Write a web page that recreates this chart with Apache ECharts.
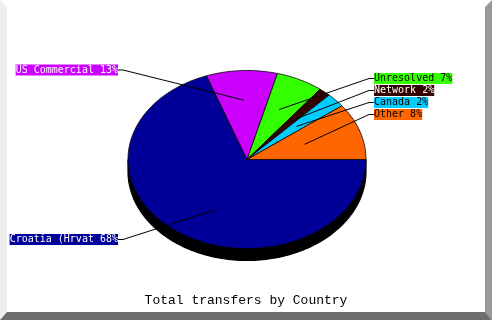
<!DOCTYPE html>
<html>
<head>
<meta charset="utf-8">
<script src="https://cdn.jsdelivr.net/npm/echarts@6/dist/echarts.min.js"></script>
<style>
html,body{margin:0;padding:0;background:#fff;}
#chart{width:492px;height:320px;}
</style>
</head>
<body>
<div id="chart"></div>
<script>
// ---- data ----
const categories = ['Croatia (Hrvat', 'US Commercial', 'Unresolved', 'Network', 'Canada', 'Other'];
const values = [67.9, 12.6, 7.4, 1.6, 2.4, 8.2];
const sliceColors = ['#000099', '#cc00ff', '#33ff00', '#330000', '#00ccff', '#ff6600'];
const labelTextColors = ['#ffffff', '#ffffff', '#000000', '#ffffff', '#000000', '#000000'];
const titleText = 'Total transfers by Country';

// ---- layout ----
const PIE = { cx: 247, cy: 159.5, a: 119, b: 89, depth: 12, anchorRatio: 0.5, startAngle: 0 };
const LABEL_LAYOUT = [
  { side: 'left', y: 239.5 },
  { side: 'left', y: 70 },
  { side: 'right', y: 78.5 },
  { side: 'right', y: 90.5 },
  { side: 'right', y: 102.5 },
  { side: 'right', y: 114.5 }
];
const LEFT_X = 118, RIGHT_X = 374;
const LABEL_FONT = '10px "DejaVu Sans Mono", monospace';

const total = values.reduce((s, v) => s + v, 0);

function ellPt(deg, dy) {
  const t = deg * Math.PI / 180;
  const c = Math.cos(t), s = Math.sin(t);
  const r = PIE.a * PIE.b / Math.sqrt((PIE.b * c) * (PIE.b * c) + (PIE.a * s) * (PIE.a * s));
  return [PIE.cx + r * c, PIE.cy - r * s + (dy || 0)];
}
function arc(from, to, dy) {
  const n = Math.max(2, Math.ceil(Math.abs(to - from)));
  const pts = [];
  for (let k = 0; k <= n; k++) pts.push(ellPt(from + (to - from) * k / n, dy));
  return pts;
}

function renderItem(params, api) {
  const i = params.dataIndex;
  const v = api.value(0);
  let cum = 0;
  for (let k = 0; k < i; k++) cum += values[k];
  const thS = PIE.startAngle - cum / total * 360;
  const thE = PIE.startAngle - (cum + v) / total * 360;
  const children = [];

  // side (visible lower half)
  const hi = Math.min(thS, 0), lo = Math.max(thE, -180);
  if (hi > lo) {
    const top = arc(hi, lo, 0);
    const bot = arc(lo, hi, PIE.depth);
    children.push({
      type: 'polygon', z2: 1,
      shape: { points: top.concat(bot) },
      style: { fill: '#000', stroke: '#000', lineWidth: 1.2 }
    });
  }
  // top face
  children.push({
    type: 'polygon', z2: 10,
    shape: { points: [[PIE.cx, PIE.cy]].concat(arc(thS, thE, 0)) },
    style: { fill: sliceColors[i], stroke: '#000', lineWidth: 0.8 }
  });
  // leader line
  const mid = (thS + thE) / 2 * Math.PI / 180;
  const ar = PIE.a * PIE.anchorRatio;
  const ax = PIE.cx + ar * Math.cos(mid), ay = PIE.cy - ar * Math.sin(mid);
  const L = LABEL_LAYOUT[i];
  const lx = L.side === 'left' ? LEFT_X : RIGHT_X;
  const kx = L.side === 'left' ? lx + 5 : lx - 5;
  children.push({
    type: 'polyline', z2: 20,
    shape: { points: [[ax, ay], [kx, L.y], [lx, L.y]] },
    style: { stroke: '#000', lineWidth: 1, fill: null }
  });
  // label
  const pct = Math.round(v / total * 100);
  children.push({
    type: 'text', z2: 30,
    x: lx, y: L.y,
    style: {
      text: api.value(1) + ' ' + pct + '%',
      font: LABEL_FONT,
      fill: labelTextColors[i],
      backgroundColor: sliceColors[i],
      align: L.side === 'left' ? 'right' : 'left',
      textAlign: L.side === 'left' ? 'right' : 'left',
      verticalAlign: 'middle',
      textVerticalAlign: 'middle',
      lineHeight: 11,
      padding: [0, 0, 0, 0]
    }
  });
  return { type: 'group', children: children };
}

const chart = echarts.init(document.getElementById('chart'), null, { renderer: 'canvas' });
chart.setOption({
  animation: false,
  backgroundColor: '#ffffff',
  title: {
    text: titleText,
    left: 'center',
    top: 289,
    textStyle: { fontFamily: '"Liberation Mono", monospace', fontSize: 13, fontWeight: 'normal', color: '#000' }
  },
  graphic: [
    { type: 'polygon', shape: { points: [[0, 0], [7, 7], [7, 312], [0, 320]] }, style: { fill: '#eeeeee' } },
    { type: 'polygon', shape: { points: [[492, 0], [485, 7], [485, 312], [492, 320]] }, style: { fill: '#999999' } },
    { type: 'polygon', shape: { points: [[0, 320], [7, 312], [485, 312], [492, 320]] }, style: { fill: '#6e6e6e' } }
  ],
  series: [{
    type: 'custom',
    coordinateSystem: 'none',
    data: values.map((v, i) => [v, categories[i]]),
    dimensions: ['value', 'name'],
    renderItem: renderItem
  }]
});
</script>
</body>
</html>
